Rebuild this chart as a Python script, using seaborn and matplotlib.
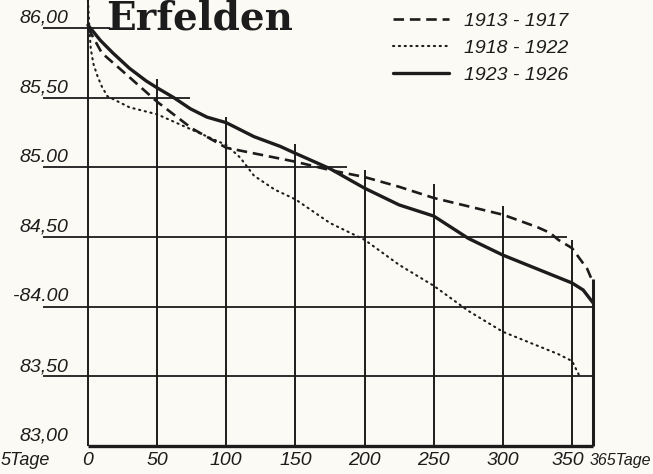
import numpy as np
import pandas as pd
import matplotlib.pyplot as plt
import seaborn as sns

# data (days / water level in m)
days_1913 = [0, 10, 25, 50, 75, 100, 125, 150, 175, 200, 225, 250, 275, 300, 325, 334, 340, 350, 361, 364]
lvl_1913 = [86.00, 85.82, 85.69, 85.47, 85.28, 85.14, 85.09, 85.04, 84.98, 84.93, 84.86, 84.78, 84.72, 84.66, 84.57, 84.53, 84.48, 84.42, 84.27, 84.20]

days_1918 = [0, 1, 2, 4, 7, 10, 14, 30, 50, 75, 100, 110, 120, 135, 150, 175, 200, 225, 250, 275, 300, 325, 340, 350, 355]
lvl_1918 = [86.20, 86.00, 85.85, 85.74, 85.65, 85.58, 85.51, 85.43, 85.38, 85.27, 85.16, 85.07, 84.94, 84.84, 84.77, 84.60, 84.48, 84.30, 84.15, 83.97, 83.82, 83.72, 83.66, 83.61, 83.51]

days_1923 = [0, 9, 18, 30, 42, 50, 62, 74, 86, 100, 108, 120, 139, 150, 175, 200, 225, 250, 275, 300, 325, 350, 358, 365]
lvl_1923 = [86.02, 85.91, 85.82, 85.71, 85.62, 85.57, 85.50, 85.42, 85.36, 85.32, 85.28, 85.22, 85.15, 85.10, 84.99, 84.85, 84.73, 84.65, 84.49, 84.37, 84.27, 84.17, 84.12, 84.03]

labels = ["1913 - 1917", "1918 - 1922", "1923 - 1926"]
y_ticks = [86.00, 85.50, 85.00, 84.50, 84.00, 83.50, 83.00]
y_ticklabels = ["86,00", "85,50", "85.00", "84,50", "-84.00", "83,50", "83,00"]
x_ticks = [0, 50, 100, 150, 200, 250, 300, 350]

sns.set_style("white")
plt.rcParams["font.family"] = ["Liberation Sans", "DejaVu Sans"]

ink = "#1c1c1c"
paper = "#fbfaf4"

fig = plt.figure(figsize=(6.53, 4.74), dpi=100, facecolor=paper)
ax = fig.add_axes([0, 0, 1, 1])
ax.set_facecolor(paper)
ax.set_xlim(-63.6, 408.5)
ax.set_ylim(82.80, 86.20)
ax.axis("off")

# staircase grid like the original drawing
h_ends = [16, 74, 187, 346, 365, 365]
for lv, xe in zip(y_ticks[:-1], h_ends):
    ax.hlines(lv, -32.5, xe, color=ink, lw=1.3, zorder=1)
ax.hlines(83.00, 0, 365, color=ink, lw=2.4, zorder=1)
v_tops = [86.20, 85.63, 85.36, 85.17, 84.98, 84.88, 84.72, 84.48]
for d, yt in zip(x_ticks, v_tops):
    ax.vlines(d, 83.0, yt, color=ink, lw=1.4, zorder=1)
ax.vlines(365, 83.0, 84.20, color=ink, lw=2.2, zorder=1)

sns.lineplot(x=days_1913, y=lvl_1913, ax=ax, color=ink, lw=1.9,
             linestyle=(0, (4, 2.2)), label=labels[0], zorder=3)
sns.lineplot(x=days_1918, y=lvl_1918, ax=ax, color=ink, lw=1.5,
             linestyle=(0, (0.6, 2.2)), dash_capstyle="round", label=labels[1], zorder=3)
sns.lineplot(x=days_1923, y=lvl_1923, ax=ax, color=ink, lw=2.4,
             label=labels[2], zorder=3)

for lv, txt in zip(y_ticks, y_ticklabels):
    ax.text(-14, lv + 0.01, txt, ha="right", va="bottom", fontsize=14,
            style="italic", color=ink)
for d in x_ticks:
    ax.text(d - (3 if d == 350 else 0), 82.90, str(d), ha="center", va="center",
            fontsize=14, style="italic", color=ink)
ax.text(362.5, 82.90, "365Tage", ha="left", va="center", fontsize=11.5,
        style="italic", color=ink)
ax.text(-63.2, 82.90, "5Tage", ha="left", va="center", fontsize=13,
        style="italic", color=ink)

ax.text(81, 86.07, "Erfelden", ha="center", va="center", fontsize=28,
        fontweight="bold", family="DejaVu Serif", color=ink)

leg = ax.legend(loc="upper left", bbox_to_anchor=(393 / 653, 1 - 12 / 474),
                bbox_transform=fig.transFigure, frameon=False, borderpad=0,
                borderaxespad=0, handlelength=2.9, handletextpad=0.75,
                labelspacing=0.5, prop={"size": 14, "style": "italic"})
for t in leg.get_texts():
    t.set_color(ink)

plt.savefig("out.png", dpi=100, facecolor=paper)
